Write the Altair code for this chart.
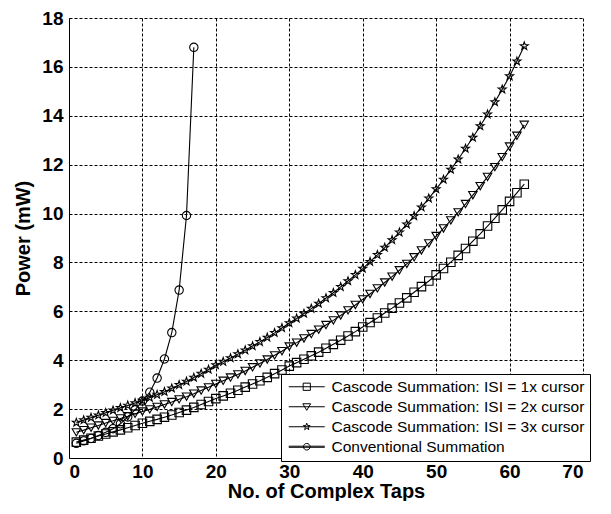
import altair as alt
import pandas as pd

# ---------------- data ----------------
series_names = [
    "Cascode Summation: ISI = 1x cursor",
    "Cascode Summation: ISI = 2x cursor",
    "Cascode Summation: ISI = 3x cursor",
    "Conventional Summation",
]

taps_cascode = list(range(1, 63))
isi1 = [0.65, 0.73, 0.81, 0.90, 0.98, 1.07, 1.15, 1.24, 1.33, 1.42,
        1.50, 1.58, 1.67, 1.76, 1.86, 1.96, 2.07, 2.19, 2.31, 2.43,
        2.54, 2.65, 2.77, 2.90, 3.03, 3.16, 3.30, 3.45, 3.60, 3.76,
        3.90, 4.04, 4.18, 4.33, 4.49, 4.65, 4.82, 4.99, 5.17, 5.36,
        5.54, 5.73, 5.93, 6.13, 6.34, 6.55, 6.78, 7.01, 7.24, 7.49,
        7.75, 8.01, 8.29, 8.57, 8.87, 9.17, 9.49, 9.81, 10.15, 10.50,
        10.85, 11.20]
isi2 = [1.05, 1.14, 1.24, 1.33, 1.43, 1.52, 1.62, 1.71, 1.81, 1.90,
        1.99, 2.09, 2.19, 2.29, 2.40, 2.51, 2.63, 2.76, 2.89, 3.03,
        3.16, 3.29, 3.42, 3.56, 3.71, 3.87, 4.03, 4.20, 4.37, 4.56,
        4.72, 4.89, 5.07, 5.25, 5.44, 5.63, 5.83, 6.04, 6.26, 6.49,
        6.71, 6.94, 7.18, 7.42, 7.68, 7.94, 8.21, 8.49, 8.78, 9.08,
        9.39, 9.72, 10.05, 10.39, 10.75, 11.12, 11.50, 11.90, 12.31, 12.74,
        13.18, 13.63]
isi3 = [1.45, 1.55, 1.65, 1.75, 1.85, 1.95, 2.05, 2.15, 2.25, 2.35,
        2.47, 2.59, 2.71, 2.85, 2.99, 3.13, 3.29, 3.45, 3.62, 3.80,
        3.94, 4.09, 4.25, 4.41, 4.58, 4.75, 4.93, 5.12, 5.32, 5.52,
        5.71, 5.91, 6.11, 6.32, 6.54, 6.76, 7.00, 7.24, 7.49, 7.75,
        8.03, 8.31, 8.61, 8.92, 9.23, 9.56, 9.90, 10.26, 10.62, 11.00,
        11.39, 11.80, 12.22, 12.66, 13.11, 13.58, 14.06, 14.56, 15.08, 15.62,
        16.23, 16.85]

taps_conv = list(range(1, 18))
conv = [0.60, 0.70, 0.80, 0.92, 1.05, 1.20, 1.40, 1.68, 1.97, 2.33,
        2.69, 3.27, 4.05, 5.13, 6.87, 9.92, 16.80]

x_ticks = [0, 10, 20, 30, 40, 50, 60, 70]
y_ticks = [0, 2, 4, 6, 8, 10, 12, 14, 16, 18]

# ---------------- table ----------------
rows = []
for name, xs, ys in [
    (series_names[0], taps_cascode, isi1),
    (series_names[1], taps_cascode, isi2),
    (series_names[2], taps_cascode, isi3),
    (series_names[3], taps_conv, conv),
]:
    for xv, yv in zip(xs, ys):
        rows.append({"taps": xv, "power": yv, "series": name})
df = pd.DataFrame(rows)

STAR = ("M0,-1L0.235,-0.324L0.951,-0.309L0.380,0.124L0.588,0.809L0,0.4"
        "L-0.588,0.809L-0.380,0.124L-0.951,-0.309L-0.235,-0.324Z")
STAR_SMALL = ("M0,-0.6L0.141,-0.194L0.571,-0.185L0.228,0.074L0.353,0.485L0,0.24"
              "L-0.353,0.485L-0.228,0.074L-0.571,-0.185L-0.141,-0.194Z")
LEG_SQUARE = "M-3,0H3M-0.6,-0.6H0.6V0.6H-0.6Z"
LEG_TRI = "M-3,0H3M-0.65,-0.5H0.65L0,0.6Z"
LEG_STAR = "M-3,0H3" + STAR_SMALL
LEG_CIRC = ("M-3,-0.09H3M-3,0.09H3"
            "M0.55,0A0.55,0.55,0,1,1,-0.55,0A0.55,0.55,0,1,1,0.55,0Z")

FONT = "Liberation Sans"
GRID_DASH = [3, 2]

x_enc = alt.X("taps:Q", scale=alt.Scale(domain=[0, 70], nice=False),
              axis=alt.Axis(values=x_ticks, title="No. of Complex Taps",
                            grid=True, gridColor="black", gridDash=GRID_DASH,
                            gridOpacity=1, gridWidth=1,
                            labelPadding=4, titlePadding=0))
y_enc = alt.Y("power:Q", scale=alt.Scale(domain=[0, 18], nice=False),
              axis=alt.Axis(values=y_ticks, title="Power (mW)",
                            grid=True, gridColor="black", gridDash=GRID_DASH,
                            gridOpacity=1, gridWidth=1,
                            labelPadding=6, titlePadding=8))

base = alt.Chart(df)

lines = base.mark_line(color="black").encode(
    x=x_enc, y=y_enc, detail="series:N",
    strokeWidth=alt.StrokeWidth("series:N",
                                scale=alt.Scale(domain=series_names,
                                                range=[1.1, 1.1, 1.1, 2]),
                                legend=None),
)

points = base.mark_point(filled=False, color="black", strokeWidth=1.1, opacity=1).encode(
    x=x_enc, y=y_enc,
    shape=alt.Shape("series:N",
                    scale=alt.Scale(domain=series_names,
                                    range=["square", "triangle-down", STAR, "circle"]),
                    legend=None),
    size=alt.Size("series:N",
                  scale=alt.Scale(domain=series_names, range=[72, 70, 49, 55]),
                  legend=None),
)

legend_layer = base.transform_filter("false").mark_point(
    filled=False, color="black", strokeWidth=1, opacity=1, size=144
).encode(
    x=x_enc, y=y_enc,
    shape=alt.Shape(
        "series:N",
        scale=alt.Scale(domain=series_names,
                        range=[LEG_SQUARE, LEG_TRI, LEG_STAR, LEG_CIRC]),
        legend=alt.Legend(
            title=None, orient="none", legendX=212, legendY=356,
            fillColor="white", strokeColor="black", padding=5,
            labelFont=FONT, labelFontSize=15.5, labelColor="black",
            labelLimit=400, labelOffset=17, rowPadding=3,
            symbolSize=144, symbolOffset=13,
            symbolStrokeColor="black", symbolFillColor="transparent",
            symbolStrokeWidth=1, symbolOpacity=1,
        ),
    ),
)

chart = alt.layer(lines, points, legend_layer).resolve_scale(
    shape="independent"
).properties(
    width=514, height=440,
    autosize=alt.AutoSizeParams(type="none"),
    padding={"left": 61, "top": 10, "right": 12, "bottom": 43},
    background="white",
).configure_view(
    stroke="transparent"
).configure_axis(
    domainColor="black", domainWidth=1, ticks=False,
    labelFont=FONT, labelFontSize=19, labelFontWeight="bold", labelColor="black",
    titleFont=FONT, titleFontSize=20, titleFontWeight="bold", titleColor="black",
)

chart.save("out.html", embed_options={"renderer": "svg", "actions": False})
